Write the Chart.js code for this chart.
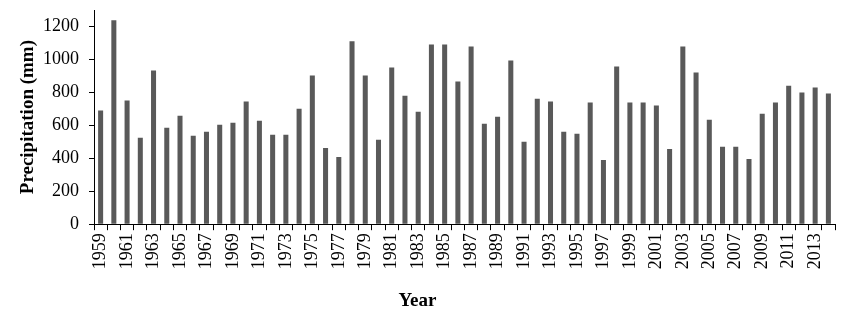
<!DOCTYPE html>
<html>
<head>
<meta charset="utf-8">
<script src="https://cdn.jsdelivr.net/npm/chart.js@4"></script>
<style>
  html, body { margin: 0; padding: 0; background: #fff; }
  #wrap { width: 841px; height: 320px; }
</style>
</head>
<body>
<div id="wrap"><canvas id="myChart" width="841" height="320"></canvas></div>
<script>
var years = [];
for (var y = 1959; y <= 2014; y++) years.push(String(y));

// annual precipitation (mm)
var precipitation = [
  690, 1238, 750, 524, 933, 585, 658, 537, 561, 604,
  616, 744, 628, 543, 543, 701, 902, 463, 408, 1110,
  902, 512, 951, 780, 683, 1091, 1091, 866, 1079, 610,
  652, 994, 500, 762, 744, 561, 549, 738, 390, 957,
  738, 738, 720, 457, 1079, 921, 634, 470, 470, 396,
  671, 738, 841, 799, 829, 793
];

var yTicks = [0, 200, 400, 600, 800, 1000, 1200];

var serif = '"Liberation Serif", "Times New Roman", serif';

Chart.defaults.font.family = serif;
Chart.defaults.color = '#000';

var ctx = document.getElementById('myChart');

var myChart = new Chart(ctx, {
  type: 'bar',
  data: {
    labels: years,
    datasets: [{
      label: 'Precipitation',
      data: precipitation,
      backgroundColor: '#595959',
      barPercentage: 0.38,
      categoryPercentage: 1.0
    }]
  },
  options: {
    responsive: false,
    animation: false,
    layout: { padding: { top: 10, right: 6, bottom: 0, left: 0 } },
    plugins: {
      legend: { display: false },
      tooltip: { enabled: false },
      title: {
        display: true,
        position: 'bottom',
        text: 'Year',
        color: '#000',
        font: { family: serif, size: 19, weight: 'bold' },
        padding: { top: 0, bottom: 8 }
      }
    },
    scales: {
      x: {
        grid: {
          display: true,
          drawOnChartArea: false,
          drawTicks: true,
          tickLength: 6,
          color: '#000',
          offset: true
        },
        border: { display: true, color: '#000', width: 1 },
        ticks: {
          autoSkip: false,
          maxRotation: 90,
          minRotation: 90,
          padding: 3,
          font: { family: serif, size: 18 },
          callback: function (val, i) { return i % 2 === 0 ? years[i] : ''; }
        },
        afterFit: function (scale) {
          scale.height = 65;
          scale.paddingLeft = 0;
          scale.paddingRight = 0;
        }
      },
      y: {
        min: 0,
        max: 1300,
        grid: {
          display: true,
          drawOnChartArea: false,
          drawTicks: true,
          tickLength: 5,
          color: '#000'
        },
        border: { display: true, color: '#000', width: 1 },
        ticks: {
          stepSize: 200,
          includeBounds: false,
          padding: 10,
          font: { family: serif, size: 18 },
          callback: function (v) { return yTicks.indexOf(v) >= 0 ? String(v) : ''; }
        },
        title: {
          display: true,
          text: 'Precipitation (mm)',
          color: '#000',
          font: { family: serif, size: 19, weight: 'bold' },
          padding: { top: 17, bottom: 0 }
        },
        afterFit: function (scale) {
          scale.width = 94;
          scale.paddingTop = 0;
          scale.paddingBottom = 0;
        }
      }
    }
  }
});
</script>
</body>
</html>
